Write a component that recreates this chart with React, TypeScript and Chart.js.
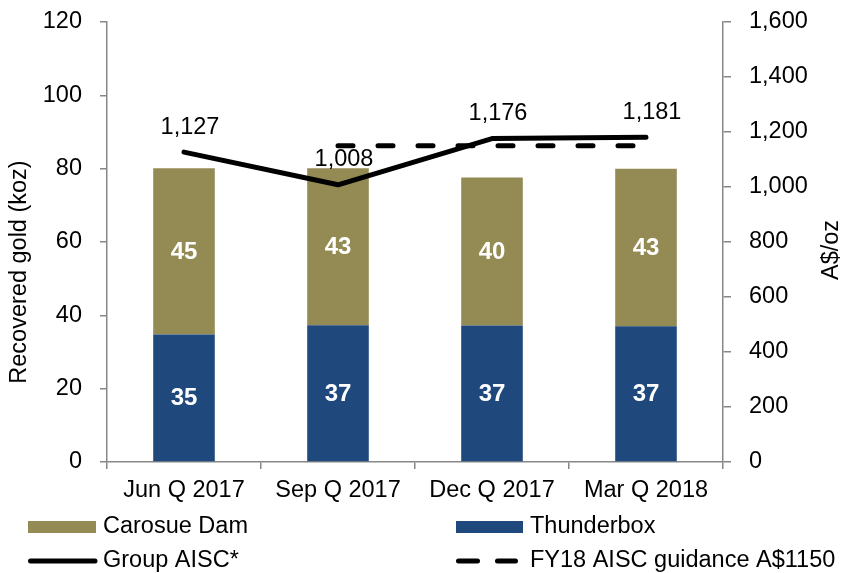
import React, { useEffect, useRef } from "react";
import { Chart, registerables } from "chart.js";

Chart.register(...registerables);

const categories = ["Jun Q 2017", "Sep Q 2017", "Dec Q 2017", "Mar Q 2018"];
const thunderbox = [34.8, 37.3, 37.2, 37.0];
const carosueDam = [45.3, 42.8, 40.4, 43.0];
const groupAisc = [1127, 1008, 1176, 1181];
const guidance = [null, 1150, 1150, 1150];

const FONT = "'Liberation Sans', Arial, sans-serif";
const GRAY = "#878787";
const OLIVE = "#948A54";
const BLUE = "#1F497D";

const labelsPlugin = {
  id: "customLabels",
  afterDatasetsDraw(chart: any) {
    const ctx = chart.ctx;
    ctx.save();
    chart.data.datasets.forEach((ds: any, di: number) => {
      const meta = chart.getDatasetMeta(di);
      if (ds.type === "bar") {
        ctx.font = `bold 24px ${FONT}`;
        ctx.fillStyle = "#ffffff";
        ctx.textAlign = "center";
        ctx.textBaseline = "middle";
        meta.data.forEach((el: any, i: number) => {
          const v = ds.data[i];
          ctx.fillText(String(Math.round(v)), el.x, (el.y + el.base) / 2 + 1);
        });
      } else if (ds.label === "Group AISC*") {
        ctx.font = `23.5px ${FONT}`;
        ctx.fillStyle = "#000000";
        ctx.textAlign = "center";
        ctx.textBaseline = "alphabetic";
        meta.data.forEach((el: any, i: number) => {
          const v = ds.data[i];
          ctx.fillText(v.toLocaleString("en-US"), el.x + 6, el.y - 18.5);
        });
      }
    });
    ctx.restore();
  },
  afterDraw(chart: any) {
    const ctx = chart.ctx;
    ctx.save();
    ctx.fillStyle = "#000";
    ctx.font = `23.5px ${FONT}`;
    ctx.textAlign = "center";
    ctx.textBaseline = "middle";
    ctx.save();
    ctx.translate(20, 272);
    ctx.rotate(-Math.PI / 2);
    ctx.fillText("Recovered gold (koz)", 0, 0);
    ctx.restore();
    ctx.save();
    ctx.translate(832, 250);
    ctx.rotate(-Math.PI / 2);
    ctx.fillText("A$/oz", 0, 0);
    ctx.restore();

    const ds = chart.data.datasets;
    const car = ds.find((d: any) => d.label === "Carosue Dam");
    const thb = ds.find((d: any) => d.label === "Thunderbox");
    const grp = ds.find((d: any) => d.label === "Group AISC*");
    const gd = ds.find((d: any) => d.label === "FY18 AISC guidance A$1150");
    const row1 = 527;
    const row2 = 561;
    ctx.textAlign = "left";
    ctx.textBaseline = "middle";

    ctx.fillStyle = car.backgroundColor;
    ctx.fillRect(28, row1 - 6, 68, 12);
    ctx.fillStyle = "#000";
    ctx.fillText(car.label, 103, row1);

    ctx.fillStyle = thb.backgroundColor;
    ctx.fillRect(456, row1 - 6, 67, 12);
    ctx.fillStyle = "#000";
    ctx.fillText(thb.label, 530, row1);

    ctx.strokeStyle = grp.borderColor;
    ctx.lineWidth = 5;
    ctx.lineCap = "round";
    ctx.beginPath();
    ctx.moveTo(30.5, row2);
    ctx.lineTo(95, row2);
    ctx.stroke();
    ctx.fillText(grp.label, 103, row2);

    ctx.strokeStyle = gd.borderColor;
    ctx.beginPath();
    ctx.moveTo(458.5, row2);
    ctx.lineTo(477.5, row2);
    ctx.moveTo(497.5, row2);
    ctx.lineTo(515.5, row2);
    ctx.stroke();
    ctx.fillText(gd.label, 530, row2);
    ctx.restore();
  },
};

const tickFont = { family: FONT, size: 23.5 };

const fitVertical = (w: number) => (s: any) => {
  s.width = w;
  s.paddingTop = 0;
  s.paddingBottom = 0;
};

export default function App() {
  const ref = useRef<HTMLCanvasElement | null>(null);

  useEffect(() => {
    if (!ref.current) return;
    const chart = new Chart(ref.current, {
      data: {
        labels: categories,
        datasets: [
          {
            type: "line",
            label: "Group AISC*",
            data: groupAisc,
            yAxisID: "y1",
            borderColor: "#000000",
            backgroundColor: "#000000",
            borderWidth: 5,
            borderCapStyle: "round",
            borderJoinStyle: "round",
            pointRadius: 0,
            tension: 0,
            order: 0,
          },
          {
            type: "line",
            label: "FY18 AISC guidance A$1150",
            data: guidance,
            yAxisID: "y1",
            borderColor: "#000000",
            backgroundColor: "#000000",
            borderWidth: 5,
            borderDash: [15, 25],
            borderCapStyle: "round",
            pointRadius: 0,
            tension: 0,
            order: 0,
          },
          {
            type: "bar",
            label: "Thunderbox",
            data: thunderbox,
            yAxisID: "y",
            backgroundColor: BLUE,
            barPercentage: 0.4,
            categoryPercentage: 1,
            order: 1,
          },
          {
            type: "bar",
            label: "Carosue Dam",
            data: carosueDam,
            yAxisID: "y",
            backgroundColor: OLIVE,
            barPercentage: 0.4,
            categoryPercentage: 1,
            order: 1,
          },
        ],
      } as any,
      options: {
        responsive: false,
        animation: false,
        devicePixelRatio: 1,
        layout: { padding: { top: 22, left: 0, right: 0, bottom: 0 } },
        plugins: {
          legend: { display: false },
          tooltip: { enabled: false },
          title: { display: false },
        },
        scales: {
          x: {
            stacked: true,
            offset: true,
            grid: {
              display: true,
              offset: true,
              drawOnChartArea: false,
              drawTicks: true,
              tickLength: 7,
              color: GRAY,
              lineWidth: 1.5,
            },
            border: { display: true, color: GRAY, width: 1.5 },
            ticks: { font: tickFont, color: "#000", padding: 7, maxRotation: 0 },
            afterFit: (s: any) => {
              s.height = 111;
              s.paddingLeft = 0;
              s.paddingRight = 0;
            },
          },
          y: {
            type: "linear",
            position: "left",
            stacked: true,
            min: 0,
            max: 120,
            ticks: { stepSize: 20, font: tickFont, color: "#000", padding: 18 },
            grid: {
              drawOnChartArea: false,
              drawTicks: true,
              tickLength: 7,
              color: GRAY,
              lineWidth: 1.5,
            },
            border: { display: true, color: GRAY, width: 1.5 },
            afterFit: fitVertical(107),
          },
          y1: {
            type: "linear",
            position: "right",
            stacked: false,
            min: 0,
            max: 1600,
            ticks: {
              stepSize: 200,
              font: tickFont,
              color: "#000",
              padding: 18,
              callback: (v: any) => Number(v).toLocaleString("en-US"),
            },
            grid: {
              drawOnChartArea: false,
              drawTicks: true,
              tickLength: 8,
              color: GRAY,
              lineWidth: 1.5,
            },
            border: { display: true, color: GRAY, width: 1.5 },
            afterFit: fitVertical(122),
          },
        },
      } as any,
      plugins: [labelsPlugin],
    });
    return () => chart.destroy();
  }, []);

  return (
    <div style={{ position: "absolute", left: 0, top: 0, width: 845, height: 573, background: "#fff" }}>
      <canvas ref={ref} width={845} height={573} style={{ display: "block" }} />
    </div>
  );
}
